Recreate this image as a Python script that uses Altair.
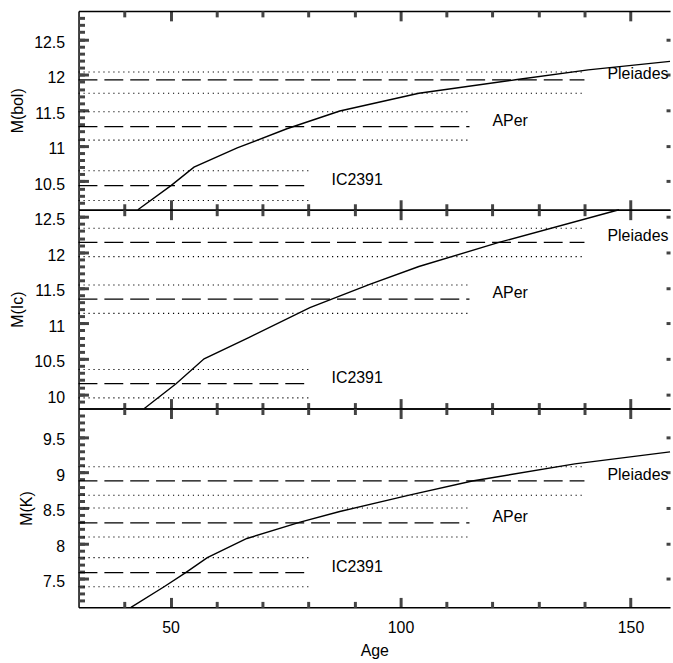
import altair as alt
import pandas as pd

# ---------------- data ----------------
CLUSTERS = ["IC2391", "APer", "Pleiades"]
LINE_START = [30, 30, 30]
LINE_END = [80, 115, 140]
LABEL_AGE = [85, 120, 145]

BOL_CENTER = [10.44, 11.27, 11.93]
BOL_UPPER = [10.65, 11.48, 12.04]
BOL_LOWER = [10.23, 11.08, 11.74]

IC_CENTER = [10.15, 11.34, 12.14]
IC_UPPER = [10.35, 11.54, 12.34]
IC_LOWER = [9.95, 11.14, 11.94]

K_CENTER = [7.59, 8.29, 8.88]
K_UPPER = [7.80, 8.50, 9.08]
K_LOWER = [7.39, 8.09, 8.68]

BOL_AGE = [42.9, 50.1, 55.1, 64.5, 75.3, 86.8, 104.0, 125.0, 140.8, 158.6]
BOL_MAG = [10.10, 10.44, 10.70, 10.97, 11.24, 11.49, 11.74, 11.93, 12.07, 12.19]

IC_AGE = [44.3, 51.2, 57.3, 67.0, 80.3, 93.3, 104.0, 121.4, 147.5]
IC_MAG = [9.80, 10.15, 10.50, 10.80, 11.22, 11.55, 11.80, 12.14, 12.60]

K_AGE = [41.4, 48.6, 53.3, 58.0, 66.6, 78.2, 86.8, 101.9, 115.6, 137.9, 158.6]
K_MAG = [7.10, 7.39, 7.59, 7.80, 8.07, 8.30, 8.45, 8.68, 8.88, 9.12, 9.29]

# ---------------- axes ----------------
X_DOMAIN = [30, 158.6]
X_MAJOR = [50, 100, 150]
X_MINOR = [40, 60, 70, 80, 90, 110, 120, 130, 140]

BOL_DOMAIN = [10.1, 12.9]
BOL_MAJOR = [10.5, 11, 11.5, 12, 12.5]
IC_DOMAIN = [9.8, 12.6]
IC_MAJOR = [10, 10.5, 11, 11.5, 12, 12.5]
K_DOMAIN = [7.1, 9.9]
K_MAJOR = [7.5, 8, 8.5, 9, 9.5]


def minor_ticks(domain):
    n = int(round((domain[1] - domain[0]) / 0.1))
    return [round(domain[0] + 0.1 * i, 1) for i in range(1, n)]


W = 595
H = 200
FONT = "Liberation Sans"
TICK_W = 3
TICK_C = "#444444"
MAJOR_LEN = 10
MINOR_LEN = 6


def tick_axis(orient, offset, values, size, domain):
    # inward-pointing ticks: the axis is placed on the opposite edge of the plot
    return alt.Axis(orient=orient, offset=offset, values=values, tickSize=size,
                    tickCount=len(values), ticks=True, labels=False, title=None,
                    domain=domain, grid=False, tickColor=TICK_C, tickWidth=TICK_W,
                    domainColor="black", domainWidth=1.5)


def panel(center, upper, lower, curve_age, curve_mag, ydomain, ymajor, ytitle, bottom):
    clus = pd.DataFrame({
        "cluster": CLUSTERS, "start": LINE_START, "end": LINE_END,
        "label_age": LABEL_AGE, "center": center, "upper": upper, "lower": lower,
    })
    curve = pd.DataFrame({"age": curve_age, "mag": curve_mag})
    xs = alt.Scale(domain=X_DOMAIN, nice=False, zero=False)
    ys = alt.Scale(domain=ydomain, nice=False, zero=False)
    yminor = minor_ticks(ydomain)

    if bottom:
        x_label_axis = alt.Axis(orient="bottom", values=X_MAJOR, ticks=False,
                                domain=False, grid=False, labelPadding=12,
                                labelFlush=False, format="d", title="Age",
                                titlePadding=7)
    else:
        x_label_axis = None

    y_label_axis = alt.Axis(orient="left", values=ymajor, ticks=False,
                            domain=False, grid=False, labelPadding=14, labelOffset=3,
                            format="~g", title=ytitle, titlePadding=8)

    dashed = alt.Chart(clus).mark_rule(color="black", strokeWidth=1.3,
                                       strokeDash=[19, 7]).encode(
        x=alt.X("start:Q", scale=xs, axis=x_label_axis),
        x2="end:Q",
        y=alt.Y("center:Q", scale=ys, axis=y_label_axis),
    )
    dotted_up = alt.Chart(clus).mark_rule(color="black", strokeWidth=1.1,
                                          strokeDash=[1.2, 3.8]).encode(
        x=alt.X("start:Q", scale=xs,
                axis=tick_axis("bottom", -H, X_MAJOR, MAJOR_LEN, True)),
        x2="end:Q",
        y=alt.Y("upper:Q", scale=ys,
                axis=tick_axis("right", -W, ymajor, MAJOR_LEN, True)),
    )
    dotted_lo = alt.Chart(clus).mark_rule(color="black", strokeWidth=1.1,
                                          strokeDash=[1.2, 3.8]).encode(
        x=alt.X("start:Q", scale=xs,
                axis=tick_axis("bottom", -H, X_MINOR, MINOR_LEN, False)),
        x2="end:Q",
        y=alt.Y("lower:Q", scale=ys,
                axis=tick_axis("right", -W, yminor, MINOR_LEN, False)),
    )
    line = alt.Chart(curve).mark_line(color="black", strokeWidth=1.4).encode(
        x=alt.X("age:Q", scale=xs,
                axis=tick_axis("top", -H, X_MAJOR, MAJOR_LEN, True)),
        y=alt.Y("mag:Q", scale=ys,
                axis=tick_axis("right", -4, ymajor, 4, False)),
    )
    text = alt.Chart(clus).mark_text(align="left", baseline="middle", dy=-6,
                                     font=FONT, fontSize=16, color="black").encode(
        x=alt.X("label_age:Q", scale=xs,
                axis=tick_axis("top", -H, X_MINOR, MINOR_LEN, False)),
        y=alt.Y("center:Q", scale=ys, axis=None),
        text="cluster:N",
    )
    return alt.layer(dashed, dotted_up, dotted_lo, line, text).resolve_scale(
        x="shared", y="shared").resolve_axis(x="independent", y="independent").properties(
        width=W, height=H)


p1 = panel(BOL_CENTER, BOL_UPPER, BOL_LOWER, BOL_AGE, BOL_MAG, BOL_DOMAIN, BOL_MAJOR,
           "M(bol)", False)
p2 = panel(IC_CENTER, IC_UPPER, IC_LOWER, IC_AGE, IC_MAG, IC_DOMAIN, IC_MAJOR,
           "M(Ic)", False)
p3 = panel(K_CENTER, K_UPPER, K_LOWER, K_AGE, K_MAG, K_DOMAIN, K_MAJOR,
           "M(K)", True)

chart = alt.vconcat(p1, p2, p3, spacing=0, bounds="flush").properties(
    padding={"left": 9, "top": 7, "right": 0, "bottom": 4},
    background="white",
).configure_view(strokeWidth=0).configure_axis(
    labelFont=FONT, labelFontSize=16, labelColor="black",
    titleFont=FONT, titleFontSize=16, titleColor="black", titleFontWeight="normal",
)

chart.save("out.html", embed_options={"renderer": "svg", "actions": False})
